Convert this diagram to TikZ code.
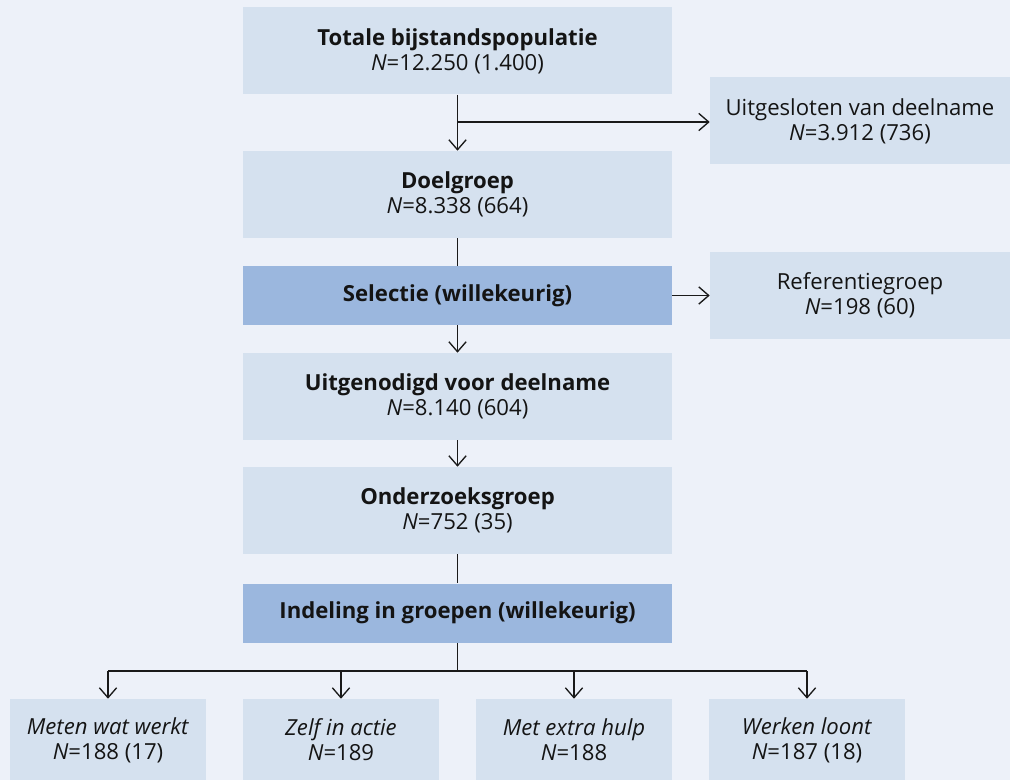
\documentclass[tikz,border=0pt]{standalone}
\usepackage{fontspec}
\setmainfont{Open Sans}
\usetikzlibrary{arrows.meta}
\definecolor{bgc}{HTML}{EDF1F9}
\definecolor{boxc}{HTML}{D5E1EF}
\definecolor{darkc}{HTML}{9BB7DE}
\definecolor{linec}{HTML}{1A1A1A}
\definecolor{textc}{HTML}{141414}
\tikzset{
  box/.style={fill=boxc, draw=none, minimum width=429*0.75pt, minimum height=87*0.75pt, align=center, inner sep=0pt, font=\fontsize{16.6pt}{18.6pt}\selectfont, text=textc},
  sidebox/.style={box, minimum width=300*0.75pt},
  darkbox/.style={box, fill=darkc, minimum height=59*0.75pt},
  leafbox/.style={box, minimum width=196*0.75pt, minimum height=82*0.75pt},
  conn/.style={draw=linec, line width=1pt},
  arr/.style={conn, -{Straight Barb[length=7.5pt, width=13pt, line width=1pt]}}
}
\begin{document}
\begin{tikzpicture}[x=0.75pt,y=-0.75pt]
\fill[bgc] (0,0) rectangle (1010,780);
\useasboundingbox (0,0) rectangle (1010,780);
\node[box] (top) at (457.5,51) {\textbf{Totale bijstandspopulatie}\\\textit{N}=12.250 (1.400)};
\node[sidebox] (excl) at (860,121) {Uitgesloten van deelname\\\textit{N}=3.912 (736)};
\node[box] (doel) at (457.5,194.5) {\textbf{Doelgroep}\\\textit{N}=8.338 (664)};
\node[darkbox] (sel) at (457.5,295.5) {\textbf{Selectie (willekeurig)}};
\node[sidebox] (ref) at (860,295.5) {Referentiegroep\\\textit{N}=198 (60)};
\node[box] (uit) at (457.5,396.5) {\textbf{Uitgenodigd voor deelname}\\\textit{N}=8.140 (604)};
\node[box] (onder) at (457.5,510.5) {\textbf{Onderzoeksgroep}\\\textit{N}=752 (35)};
\node[darkbox] (indel) at (457.5,613) {\textbf{Indeling in groepen (willekeurig)}};
\node[leafbox] (g1) at (108,740) {\textit{Meten wat werkt}\\\textit{N}=188 (17)};
\node[leafbox] (g2) at (341,740) {\textit{Zelf in actie}\\\textit{N}=189};
\node[leafbox] (g3) at (574,740) {\textit{Met extra hulp}\\\textit{N}=188};
\node[leafbox] (g4) at (807,740) {\textit{Werken loont}\\\textit{N}=187 (18)};
\coordinate (br) at (457.5,122);
\coordinate (sp) at (457.5,671);
\draw[arr] (top) -- (doel);
\draw[arr] (br) -- (br -| excl.west);
\draw[conn] (doel) -- (sel);
\draw[arr] (sel) -- (ref);
\draw[arr] (sel) -- (uit);
\draw[arr] (uit) -- (onder);
\draw[conn] (onder) -- (indel);
\draw[conn] (indel) -- (sp);
\draw[conn] (sp -| g1) -- (sp -| g4);
\foreach \g in {g1,g2,g3,g4} \draw[arr] (sp -| \g) -- (\g.north);
\end{tikzpicture}
\end{document}
